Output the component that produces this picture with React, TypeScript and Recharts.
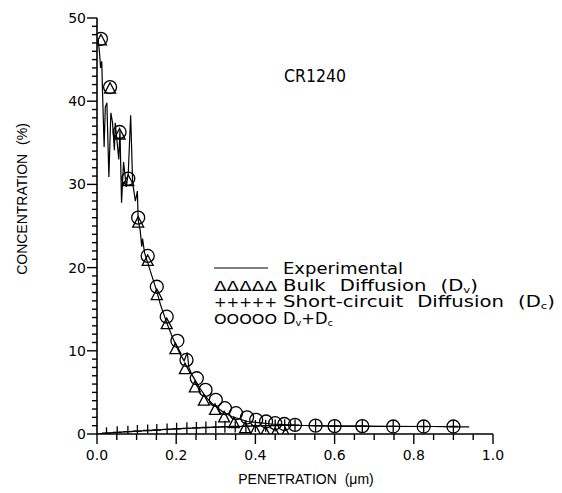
import React from "react";
import { ComposedChart, Line, Scatter, XAxis, YAxis } from "recharts";

// Experimental profile
const expX = [0.003,0.007,0.009,0.012,0.014,0.018,0.021,0.025,0.030,0.035,0.039,0.044,0.046,0.051,0.055,0.058,0.062,0.067,0.074,0.079,0.085,0.090,0.097,0.102,0.104,0.109,0.113,0.115,0.120,0.130,0.140,0.150,0.160,0.170,0.180,0.190,0.200,0.210,0.220,0.228,0.232,0.240,0.250,0.260,0.270,0.280,0.290,0.300,0.320,0.340,0.360,0.380,0.400,0.420,0.440,0.460,0.480,0.500,0.550,0.600,0.650,0.700,0.750,0.800,0.850,0.900,0.940];
const expY = [47.4,45.5,44.0,44.8,41.0,34.5,39.3,39.8,30.9,38.6,37.5,34.1,37.4,35.0,33.0,36.5,27.8,32.7,29.7,31.4,38.3,30.2,28.0,29.2,25.7,24.5,22.5,23.5,21.8,20.3,18.8,17.3,15.6,14.2,12.9,11.7,10.6,9.6,8.8,9.8,8.0,7.1,6.3,5.5,4.8,4.2,3.7,3.3,2.6,2.1,1.8,1.5,1.4,1.3,1.2,1.15,1.1,1.05,1.0,0.95,0.95,0.9,0.9,0.9,0.9,0.85,0.85];

// Bulk diffusion (Dv) - triangles
const bulkX = [0.01,0.033,0.057,0.079,0.104,0.128,0.151,0.176,0.198,0.222,0.247,0.27,0.298,0.321,0.346,0.374,0.40,0.425,0.45,0.476];
const bulkY = [47.3,41.5,36.0,30.4,25.4,20.8,16.7,13.2,10.2,7.8,5.6,4.0,2.9,2.0,1.3,0.7,0.4,0.2,0.05,0.0];

// Short-circuit diffusion (Dc) - pluses
const shortX = [0.024,0.051,0.078,0.102,0.128,0.151,0.177,0.201,0.227,0.251,0.275,0.30,0.323,0.349,0.376,0.40,0.426,0.45,0.474,0.50,0.552,0.60,0.67,0.748,0.825,0.90];
const shortY = [0.1,0.2,0.28,0.35,0.42,0.48,0.55,0.62,0.68,0.73,0.78,0.83,0.87,0.9,0.94,0.97,1.0,1.02,1.04,1.06,1.0,0.95,0.95,0.92,0.9,0.9];

// Dv + Dc - circles
const sumX = [0.01,0.033,0.057,0.079,0.104,0.128,0.151,0.176,0.203,0.226,0.252,0.274,0.30,0.323,0.351,0.379,0.402,0.427,0.45,0.473,0.50,0.552,0.60,0.67,0.748,0.825,0.90];
const sumY = [47.5,41.7,36.3,30.7,26.0,21.4,17.7,14.1,11.2,8.9,6.7,5.3,4.1,3.1,2.5,2.0,1.7,1.5,1.3,1.2,1.1,1.0,0.95,0.95,0.9,0.9,0.9];

// Ticks
const xTicks = [0,0.05,0.1,0.15,0.2,0.25,0.3,0.35,0.4,0.45,0.5,0.55,0.6,0.65,0.7,0.75,0.8,0.85,0.9,0.95,1.0];
const xMajor = [0,0.2,0.4,0.6,0.8,1.0];
const xLabels = ["0.0","0.2","0.4","0.6","0.8","1.0"];
const yTicks = Array.from({ length: 51 }, (_, i) => i);
const yMajor = [0,10,20,30,40,50];
const yLabels = ["0","10","20","30","40","50"];

const zip = (xs: number[], ys: number[]) => xs.map((x, i) => ({ x, y: ys[i] }));
const expData = zip(expX, expY);
const bulkData = zip(bulkX, bulkY);
const shortData = zip(shortX, shortY);
const shortLine = [{ x: 0, y: 0 }, ...shortData];
const sumData = zip(sumX, sumY);

const FONT = "'DejaVu Sans', sans-serif";
const AFONT = "'Liberation Sans', Arial, sans-serif";

const XTick = (props: any) => {
  const { x, y, payload } = props;
  const v = payload.value;
  const idx = xMajor.findIndex((m) => Math.abs(m - v) < 1e-6);
  const major = idx >= 0;
  return (
    <g>
      <line x1={x} x2={x} y1={y} y2={y + (major ? 10 : 6)} stroke="#000" strokeWidth={1.4} />
      {major && (
        <text x={x} y={y + 26} textAnchor="middle" fontFamily={FONT} fontSize={14} fill="#000">
          {xLabels[idx]}
        </text>
      )}
    </g>
  );
};

const YTick = (props: any) => {
  const { x, y, payload } = props;
  const v = payload.value;
  const idx = yMajor.indexOf(v);
  const major = idx >= 0;
  return (
    <g>
      <line x1={x} x2={x - (major ? 10 : 5)} y1={y} y2={y} stroke="#000" strokeWidth={1.4} />
      {major && (
        <text x={x - 11} y={y + 5} textAnchor="end" fontFamily={FONT} fontSize={14} fill="#000">
          {yLabels[idx]}
        </text>
      )}
    </g>
  );
};

const Tri = (p: any) => {
  const { cx, cy } = p;
  if (cx == null || cy == null) return <g />;
  return (
    <path
      d={`M${cx},${cy - 6} L${cx + 5.5},${cy + 4.5} L${cx - 5.5},${cy + 4.5} Z`}
      fill="none"
      stroke="#000"
      strokeWidth={1.3}
    />
  );
};

const Plus = (p: any) => {
  const { cx, cy } = p;
  if (cx == null || cy == null) return <g />;
  return (
    <path d={`M${cx},${cy - 6} V${cy + 6} M${cx - 4.5},${cy} H${cx + 4.5}`} fill="none" stroke="#000" strokeWidth={1.3} />
  );
};

const Circ = (p: any) => {
  const { cx, cy } = p;
  if (cx == null || cy == null) return <g />;
  return <circle cx={cx} cy={cy} r={6.5} fill="none" stroke="#000" strokeWidth={1.3} />;
};

export default function App() {
  return (
    <div style={{ position: "absolute", left: 0, top: 0, width: 562, height: 493, background: "#fff" }}>
      <ComposedChart width={562} height={493} margin={{ top: 18, right: 69, bottom: 29, left: 57 }}>
        <XAxis
          type="number"
          dataKey="x"
          domain={[0, 1]}
          ticks={xTicks}
          interval={0}
          tick={<XTick />}
          tickLine={false}
          tickSize={0}
          tickMargin={0}
          height={30}
          axisLine={{ stroke: "#000", strokeWidth: 1.6 }}
          allowDataOverflow
        />
        <YAxis
          type="number"
          dataKey="y"
          domain={[0, 50]}
          ticks={yTicks}
          interval={0}
          tick={<YTick />}
          tickLine={false}
          tickSize={0}
          tickMargin={0}
          width={40}
          axisLine={{ stroke: "#000", strokeWidth: 1.6 }}
          allowDataOverflow
        />
        <Line data={expData} dataKey="y" type="linear" stroke="#000" strokeWidth={1.2} dot={false} activeDot={false} isAnimationActive={false} />
        <Line data={shortLine} dataKey="y" type="linear" stroke="#000" strokeWidth={1.1} dot={false} activeDot={false} isAnimationActive={false} />
        <Scatter data={bulkData} dataKey="y" shape={<Tri />} isAnimationActive={false} />
        <Scatter data={shortData} dataKey="y" shape={<Plus />} isAnimationActive={false} />
        <Scatter data={sumData} dataKey="y" shape={<Circ />} isAnimationActive={false} />
      </ComposedChart>
      <svg width={562} height={493} style={{ position: "absolute", left: 0, top: 0, pointerEvents: "none" }}>
        <text x={284} y={82} textLength={62} lengthAdjust="spacingAndGlyphs" fontFamily={FONT} fontSize={17} fill="#000">CR1240</text>
        <g fontFamily={FONT} fontSize={15} fill="#000">
          <line x1={214} x2={268} y1={268} y2={268} stroke="#000" strokeWidth={1.2} />
          <text x={283} y={274} textLength={120} lengthAdjust="spacingAndGlyphs">Experimental</text>
          <text x={214} y={290.5} textLength={63} lengthAdjust="spacingAndGlyphs" fontSize={14}>ΔΔΔΔΔ</text>
          <text x={283} y={290.5} wordSpacing={6} textLength={195} lengthAdjust="spacingAndGlyphs">
            Bulk Diffusion (D<tspan fontSize={9} dy={2}>v</tspan><tspan dy={-2}>)</tspan>
          </text>
          <text x={214} y={307} textLength={63} lengthAdjust="spacingAndGlyphs" fontSize={14}>+++++</text>
          <text x={283} y={307} wordSpacing={6} textLength={272} lengthAdjust="spacingAndGlyphs">
            Short-circuit Diffusion (D<tspan fontSize={9} dy={2}>c</tspan><tspan dy={-2}>)</tspan>
          </text>
          <text x={214} y={323.5} textLength={63} lengthAdjust="spacingAndGlyphs" fontSize={14}>OOOOO</text>
          <text x={283} y={323.5} textLength={50} lengthAdjust="spacingAndGlyphs">
            D<tspan fontSize={9} dy={2}>v</tspan><tspan dy={-2}>+D</tspan><tspan fontSize={9} dy={2}>c</tspan>
          </text>
        </g>
        <text
          transform="translate(27,199) rotate(-90)"
          textAnchor="middle"
          fontFamily={AFONT}
          fontSize={14}
          fill="#000"
          wordSpacing={5}
        >
          CONCENTRATION (%)
        </text>
        <text x={306} y={484} textAnchor="middle" fontFamily={AFONT} fontSize={14} fill="#000" wordSpacing={4}>
          PENETRATION (μm)
        </text>
      </svg>
    </div>
  );
}
